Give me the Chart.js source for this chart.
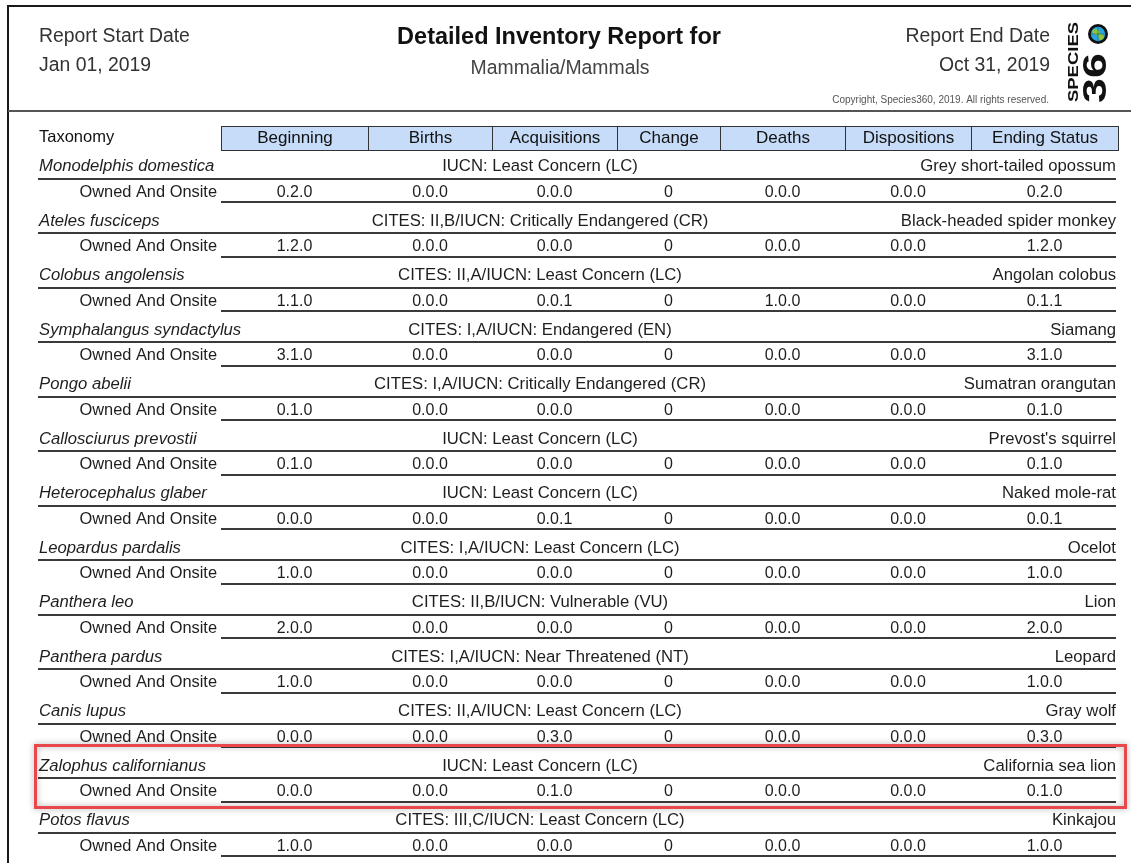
<!DOCTYPE html>
<html>
<head>
<meta charset="utf-8">
<script src="https://cdn.jsdelivr.net/npm/chart.js@4.4.1/dist/chart.umd.min.js"></script>
<style>
html, body { margin: 0; padding: 0; background: #fff; }
#wrap { width: 1131px; height: 863px; }
</style>
</head>
<body>
<div id="wrap"><canvas id="reportChart" width="1131" height="863"></canvas></div>
<script>
// Report content
const species = ['Monodelphis domestica', 'Ateles fusciceps', 'Colobus angolensis', 'Symphalangus syndactylus',
    'Pongo abelii', 'Callosciurus prevostii', 'Heterocephalus glaber', 'Leopardus pardalis', 'Panthera leo',
    'Panthera pardus', 'Canis lupus', 'Zalophus californianus', 'Potos flavus'];
const conservation = ['IUCN: Least Concern (LC)', 'CITES: II,B/IUCN: Critically Endangered (CR)',
    'CITES: II,A/IUCN: Least Concern (LC)', 'CITES: I,A/IUCN: Endangered (EN)',
    'CITES: I,A/IUCN: Critically Endangered (CR)', 'IUCN: Least Concern (LC)', 'IUCN: Least Concern (LC)',
    'CITES: I,A/IUCN: Least Concern (LC)', 'CITES: II,B/IUCN: Vulnerable (VU)',
    'CITES: I,A/IUCN: Near Threatened (NT)', 'CITES: II,A/IUCN: Least Concern (LC)',
    'IUCN: Least Concern (LC)', 'CITES: III,C/IUCN: Least Concern (LC)'];
const commonNames = ['Grey short-tailed opossum', 'Black-headed spider monkey', 'Angolan colobus', 'Siamang',
    'Sumatran orangutan', "Prevost's squirrel", 'Naked mole-rat', 'Ocelot', 'Lion', 'Leopard', 'Gray wolf',
    'California sea lion', 'Kinkajou'];
const holding = 'Owned And Onsite';

const columns = ['Beginning', 'Births', 'Acquisitions', 'Change', 'Deaths', 'Dispositions', 'Ending Status'];
const beginning    = ['0.2.0', '1.2.0', '1.1.0', '3.1.0', '0.1.0', '0.1.0', '0.0.0', '1.0.0', '2.0.0', '1.0.0', '0.0.0', '0.0.0', '1.0.0'];
const births       = ['0.0.0', '0.0.0', '0.0.0', '0.0.0', '0.0.0', '0.0.0', '0.0.0', '0.0.0', '0.0.0', '0.0.0', '0.0.0', '0.0.0', '0.0.0'];
const acquisitions = ['0.0.0', '0.0.0', '0.0.1', '0.0.0', '0.0.0', '0.0.0', '0.0.1', '0.0.0', '0.0.0', '0.0.0', '0.3.0', '0.1.0', '0.0.0'];
const change       = ['0', '0', '0', '0', '0', '0', '0', '0', '0', '0', '0', '0', '0'];
const deaths       = ['0.0.0', '0.0.0', '1.0.0', '0.0.0', '0.0.0', '0.0.0', '0.0.0', '0.0.0', '0.0.0', '0.0.0', '0.0.0', '0.0.0', '0.0.0'];
const dispositions = ['0.0.0', '0.0.0', '0.0.0', '0.0.0', '0.0.0', '0.0.0', '0.0.0', '0.0.0', '0.0.0', '0.0.0', '0.0.0', '0.0.0', '0.0.0'];
const ending       = ['0.2.0', '1.2.0', '0.1.1', '3.1.0', '0.1.0', '0.1.0', '0.0.1', '1.0.0', '2.0.0', '1.0.0', '0.3.0', '0.1.0', '1.0.0'];

const highlightRow = 11; // Zalophus californianus

// Layout (x scale units are 1px wide)
const colEdges = [0, 183, 330, 454, 579, 682, 807, 933, 1080];
const STATUS_X = 502;
const FONT = '"Liberation Sans", Arial, Helvetica, sans-serif';

const rowKeys = ['header'];
species.forEach((s, i) => rowKeys.push('sp' + i, 'own' + i));

const colCenter = c => (colEdges[c + 1] + colEdges[c + 2]) / 2;
const valueCols = [beginning, births, acquisitions, change, deaths, dispositions, ending];

const datasets = valueCols.map((vals, c) => ({
    label: columns[c],
    data: vals.map((v, i) => ({ x: colCenter(c), y: 'own' + i, text: v })),
    align: 'center', font: '16px ' + FONT, dy: 0
}));
datasets.push({
    label: 'Taxonomy',
    data: species.map((s, i) => ({ x: 1, y: 'sp' + i, text: s })),
    align: 'left', font: 'italic 16.7px ' + FONT, dy: 1.5
});
datasets.push({
    label: 'Status',
    data: conservation.map((s, i) => ({ x: STATUS_X, y: 'sp' + i, text: s })),
    align: 'center', font: '16.7px ' + FONT, dy: 1.5
});
datasets.push({
    label: 'Common name',
    data: commonNames.map((s, i) => ({ x: colEdges[8] - 2, y: 'sp' + i, text: s })),
    align: 'right', font: '16.7px ' + FONT, dy: 1.5
});
datasets.push({
    label: 'Holding',
    data: species.map((s, i) => ({ x: colEdges[1] - 4, y: 'own' + i, text: holding })),
    align: 'right', font: '16.4px ' + FONT, dy: 0
});
datasets.forEach(d => { d.pointRadius = 0; d.showLine = false; });

function drawText(ctx, s, x, y, font, color, align) {
    ctx.font = font;
    ctx.fillStyle = color;
    ctx.textAlign = align || 'left';
    ctx.textBaseline = 'middle';
    ctx.fillText(s, x, y);
}

function drawLogo(ctx) {
    // "SPECIES" vertical
    ctx.save();
    ctx.translate(1073, 102);
    ctx.rotate(-Math.PI / 2);
    ctx.font = 'bold 14px ' + FONT;
    const w1 = ctx.measureText('SPECIES').width;
    ctx.scale(80 / w1, 1);
    ctx.fillStyle = '#111';
    ctx.textAlign = 'left';
    ctx.textBaseline = 'middle';
    ctx.fillText('SPECIES', 0, 1);
    ctx.restore();

    // "36" vertical
    ctx.save();
    ctx.translate(1096, 103);
    ctx.rotate(-Math.PI / 2);
    ctx.font = '900 33px ' + FONT;
    const w2 = ctx.measureText('36').width;
    ctx.scale(50 / w2, 1);
    ctx.fillStyle = '#111';
    ctx.textAlign = 'left';
    ctx.textBaseline = 'middle';
    ctx.fillText('36', 0, 1);
    ctx.restore();

    // globe as the "0"
    const gx = 1098, gy = 34;
    ctx.save();
    ctx.beginPath(); ctx.arc(gx, gy, 10, 0, Math.PI * 2); ctx.fillStyle = '#111'; ctx.fill();
    ctx.beginPath(); ctx.arc(gx, gy, 7.2, 0, Math.PI * 2); ctx.fillStyle = '#27a7df'; ctx.fill();
    ctx.clip();
    ctx.fillStyle = '#8cc640';
    ctx.beginPath(); ctx.ellipse(gx - 2, gy - 2, 3.8, 2.8, 0.4, 0, Math.PI * 2); ctx.fill();
    ctx.beginPath(); ctx.ellipse(gx + 3, gy + 3, 2.8, 3.2, -0.3, 0, Math.PI * 2); ctx.fill();
    ctx.strokeStyle = 'rgba(20,60,40,0.6)'; ctx.lineWidth = 0.7;
    ctx.beginPath(); ctx.moveTo(gx - 7, gy); ctx.lineTo(gx + 7, gy); ctx.moveTo(gx, gy - 7); ctx.lineTo(gx, gy + 7); ctx.stroke();
    ctx.restore();
}

const reportPlugin = {
    id: 'reportPlugin',
    beforeDraw(chart) {
        const ctx = chart.ctx;
        ctx.save();
        ctx.fillStyle = '#fff';
        ctx.fillRect(0, 0, chart.width, chart.height);
        ctx.restore();
    },
    afterDatasetsDraw(chart) {
        const ctx = chart.ctx;
        const xs = chart.scales.x, ys = chart.scales.y;
        const rowH = (ys.bottom - ys.top) / rowKeys.length;
        const px = v => xs.getPixelForValue(v);
        const py = k => ys.getPixelForValue(rowKeys.indexOf(k));
        ctx.save();

        // page frame and header section
        ctx.fillStyle = '#1a1a1a';
        ctx.fillRect(7, 5, chart.width - 7, 2);
        ctx.fillRect(7, 5, 2, chart.height - 5);
        ctx.fillStyle = '#555';
        ctx.fillRect(8, 110, chart.width - 8, 2);

        drawText(ctx, 'Report Start Date', 39, 37, '19.4px ' + FONT, '#333', 'left');
        drawText(ctx, 'Jan 01, 2019', 39, 66, '19.4px ' + FONT, '#333', 'left');
        drawText(ctx, 'Detailed Inventory Report for', 559, 38, 'bold 23.5px ' + FONT, '#111', 'center');
        drawText(ctx, 'Mammalia/Mammals', 560, 69, '19.4px ' + FONT, '#444', 'center');
        drawText(ctx, 'Report End Date', 1050, 37, '19.4px ' + FONT, '#333', 'right');
        drawText(ctx, 'Oct 31, 2019', 1050, 66, '19.4px ' + FONT, '#333', 'right');
        drawText(ctx, 'Copyright, Species360, 2019. All rights reserved.', 1049, 100, '10px ' + FONT, '#555', 'right');
        drawLogo(ctx);

        // column header boxes
        const hy = py('header');
        drawText(ctx, 'Taxonomy', px(1), hy, '16.5px ' + FONT, '#111', 'left');
        const boxTop = Math.round(hy - rowH * 0.44) + 0.5;
        const boxH = Math.round(rowH * 0.88);
        columns.forEach((name, c) => {
            const x0 = Math.round(px(colEdges[c + 1])) + 0.5;
            const x1 = Math.round(px(colEdges[c + 2])) + 0.5;
            ctx.fillStyle = '#c6dcf8';
            ctx.fillRect(x0, boxTop, x1 - x0, boxH);
            ctx.strokeStyle = '#333';
            ctx.lineWidth = 1;
            ctx.strokeRect(x0, boxTop, x1 - x0, boxH);
            drawText(ctx, name, (x0 + x1) / 2, hy + 0.5, '17px ' + FONT, '#111', 'center');
        });

        // rule lines under each species row and each holding row
        ctx.fillStyle = '#3a3a3a';
        species.forEach((s, i) => {
            const ySp = Math.round(py('sp' + i) + rowH / 2);
            ctx.fillRect(px(0), ySp - 1, px(colEdges[8] - 2) - px(0), 2);
            const yOwn = Math.round(py('own' + i) + rowH * 0.37);
            ctx.fillRect(px(colEdges[1]), yOwn - 1, px(colEdges[8] - 2) - px(colEdges[1]), 2);
        });

        // cell texts from the dataset points
        chart.data.datasets.forEach((ds, d) => {
            const meta = chart.getDatasetMeta(d);
            meta.data.forEach((pt, j) => {
                drawText(ctx, ds.data[j].text, pt.x, pt.y + ds.dy, ds.font, '#1e1e1e', ds.align);
            });
        });

        // highlighted record
        const top = py('sp' + highlightRow) - rowH * 0.72;
        const bottom = py('own' + highlightRow) + rowH * 0.56;
        ctx.shadowColor = 'rgba(0,0,0,0.35)';
        ctx.shadowBlur = 6;
        ctx.strokeStyle = '#e8474c';
        ctx.lineWidth = 3;
        ctx.strokeRect(Math.round(px(0)) - 2.5, Math.round(top) + 0.5, Math.round(px(colEdges[8]) + 10 - px(0)), Math.round(bottom - top));
        ctx.restore();
    }
};

new Chart(document.getElementById('reportChart').getContext('2d'), {
    type: 'scatter',
    data: { datasets: datasets },
    options: {
        responsive: false,
        animation: false,
        events: [],
        layout: { padding: { top: 124, left: 38, right: 13, bottom: 3 } },
        plugins: {
            legend: { display: false },
            tooltip: { enabled: false }
        },
        scales: {
            x: { type: 'linear', min: colEdges[0], max: colEdges[8], display: false },
            y: { type: 'category', labels: rowKeys, offset: true, display: false }
        }
    },
    plugins: [reportPlugin]
});
</script>
</body>
</html>
